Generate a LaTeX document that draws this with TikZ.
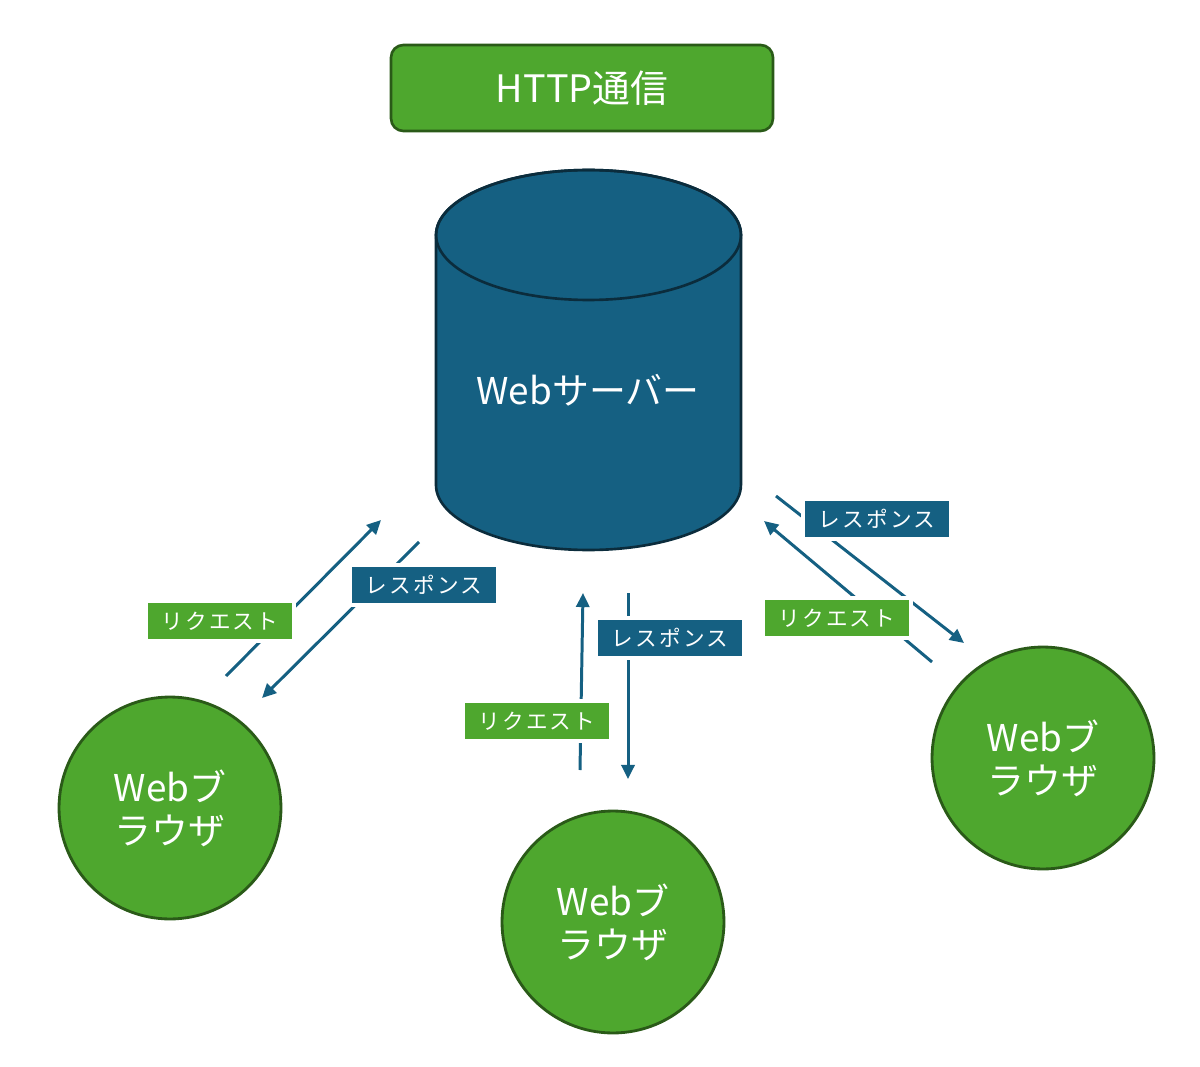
\documentclass[tikz,border=0pt]{standalone}
\usepackage{fontspec}
\setmainfont{Noto Sans CJK JP}
\usetikzlibrary{arrows.meta}
\definecolor{grn}{HTML}{4EA72E}
\definecolor{grnd}{HTML}{2A5A18}
\definecolor{blu}{HTML}{156082}
\definecolor{blud}{HTML}{0B2C3C}
\tikzset{
  titlebox/.style={draw=grnd, fill=grn, line width=1.5pt, rounded corners=7pt,
    minimum width=7.64cm, minimum height=1.72cm, text=white, font=\fontsize{21.5}{24}\selectfont},
  browser/.style={circle, draw=grnd, fill=grn, line width=1.6pt, minimum size=4.44cm,
    inner sep=0pt, text=white, align=center, font=\fontsize{21}{24.5}\selectfont},
  flow/.style={draw=blu, line width=1.7pt, -{Triangle[length=8pt,width=7.5pt]}},
  reqlabel/.style={fill=grn, draw=white, line width=2.5pt, text=white, minimum width=2.95cm,
    minimum height=0.81cm, inner sep=0pt, font=\fontsize{12.3}{13}\selectfont\addfontfeatures{LetterSpace=10}},
  reslabel/.style={reqlabel, fill=blu},
}
\begin{document}
\begin{tikzpicture}[x=0.02cm,y=-0.02cm]
\useasboundingbox (0,0) rectangle (1200,1067);
% title
\node[titlebox] (title) at (582,88) {HTTP通信};
% server cylinder
\draw[fill=blu, draw=blud, line width=1.5pt]
  (436,235) -- (436,485) arc[start angle=180, end angle=360, x radius=3.05cm, y radius=1.3cm]
  -- (741,235) arc[start angle=0, end angle=180, x radius=3.05cm, y radius=1.3cm] -- cycle;
\draw[draw=blud, line width=1.5pt] (588.5,235) ellipse[x radius=3.05cm, y radius=1.3cm];
\node[text=white, font=\fontsize{21}{24}\selectfont] (server) at (588,390) {Webサーバー};
% browsers
\node[browser] (b1) at (170,808) {Webブ\\ラウザ};
\node[browser] (b2) at (613,922) {Webブ\\ラウザ};
\node[browser] (b3) at (1043,758) {Webブ\\ラウザ};
% arrow end points
\coordinate (l1s) at (226,676); \coordinate (l1e) at (381,520);
\coordinate (l2s) at (419,542); \coordinate (l2e) at (262,698);
\coordinate (m1s) at (580,770); \coordinate (m1e) at (583,593);
\coordinate (m2s) at (628,593); \coordinate (m2e) at (628,779);
\coordinate (r1s) at (776,496); \coordinate (r1e) at (964,643);
\coordinate (r2s) at (932,662); \coordinate (r2e) at (764,521);
\draw[flow] (l1s) -- (l1e);
\draw[flow] (l2s) -- (l2e);
\draw[flow] (m1s) -- (m1e);
\draw[flow] (m2s) -- (m2e);
\draw[flow] (r1s) -- (r1e);
\draw[flow] (r2s) -- (r2e);
% labels
\node[reqlabel] (lreq) at (220,621) {リクエスト};
\node[reslabel] (lres) at (424,585) {レスポンス};
\node[reqlabel] (mreq) at (537,721) {リクエスト};
\node[reslabel] (mres) at (670,638) {レスポンス};
\node[reslabel] (rres) at (877,519) {レスポンス};
\node[reqlabel] (rreq) at (837,618) {リクエスト};
\end{tikzpicture}
\end{document}
